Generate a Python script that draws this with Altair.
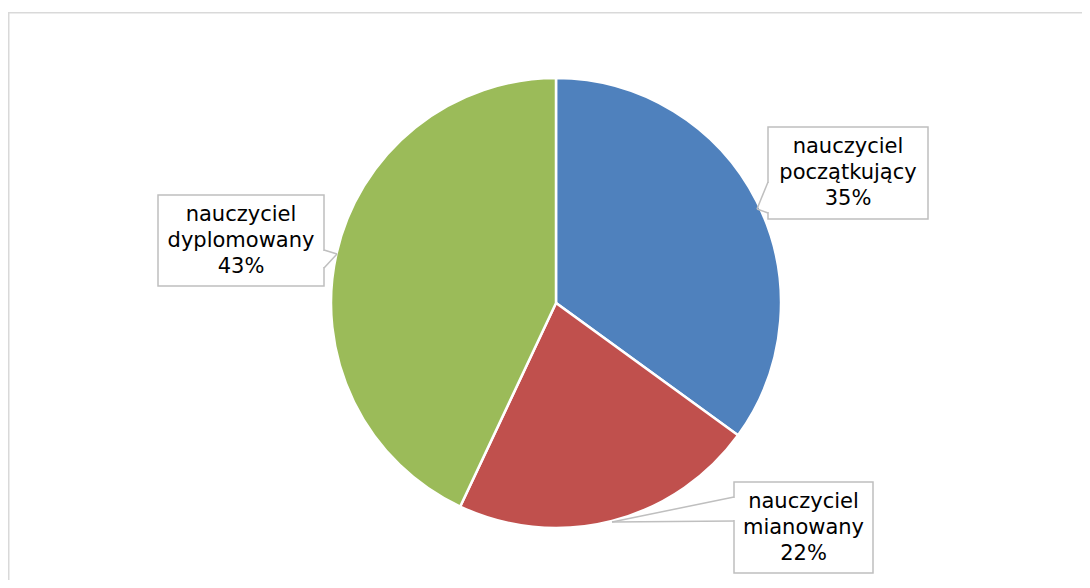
import altair as alt
import pandas as pd

# ---- data ----
categories = ["nauczyciel początkujący", "nauczyciel mianowany", "nauczyciel dyplomowany"]
label_lines = [["nauczyciel", "początkujący"], ["nauczyciel", "mianowany"], ["nauczyciel", "dyplomowany"]]
values = [35, 22, 43]
colors = ["#4F81BD", "#C0504D", "#9BBB59"]

# ---- layout (view pixels) ----
W, H = 1074, 568
LH = 26
CX, CY, R = 548, 291, 225
box_x0 = [760, 726, 150]
box_x1 = [920, 865, 316]
box_y0 = [115, 470, 183]
box_y1 = [207, 561, 274]
ptr_edge = [760, 726, 316]
ptr_ya = [170, 485, 238]
ptr_yb = [201, 509, 256]
ptr_tx = [749, 604, 329]
ptr_ty = [197, 510, 242]

pie_df = pd.DataFrame({"category": categories, "value": values, "idx": list(range(len(values)))})

label_df = pd.DataFrame({
    "x0": box_x0, "x1": box_x1, "y0": box_y0, "y1": box_y1,
    "cx": [(a + b) / 2 for a, b in zip(box_x0, box_x1)],
    "cy": [(a + b) / 2 - LH for a, b in zip(box_y0, box_y1)],
    "text": [f"{l[0]}\n{l[1]}\n{v}%" for l, v in zip(label_lines, values)],
})

seg_rows, cover_rows = [], []
for e, ya, yb, tx, ty in zip(ptr_edge, ptr_ya, ptr_yb, ptr_tx, ptr_ty):
    seg_rows.append({"x": e, "y": ya, "x2": tx, "y2": ty})
    seg_rows.append({"x": e, "y": yb, "x2": tx, "y2": ty})
    cover_rows.append({"x": e, "y": ya + 1, "x2": e, "y2": yb - 1})
seg_df = pd.DataFrame(seg_rows)
cover_df = pd.DataFrame(cover_rows)

border_df = pd.DataFrame({"x": [0.75, 0], "y": [0, 0.75], "x2": [0.75, W], "y2": [H, 0.75]})

xs = alt.Scale(domain=[0, W], range=[0, W], nice=False, zero=False)
ys = alt.Scale(domain=[0, H], range=[0, H], nice=False, zero=False)

def X(f):
    return alt.X(f, type="quantitative", scale=xs, axis=None)

def Y(f):
    return alt.Y(f, type="quantitative", scale=ys, axis=None)

border = alt.Chart(border_df).mark_rule(color="#d9d9d9", strokeWidth=1.5).encode(
    x=X("x"), y=Y("y"), x2="x2", y2="y2")

pie = alt.Chart(pie_df).mark_arc(outerRadius=R, stroke="white", strokeWidth=2.5).encode(
    theta=alt.Theta("value:Q", stack=True),
    color=alt.Color("category:N", scale=alt.Scale(domain=categories, range=colors), legend=None),
    order=alt.Order("idx:Q"),
    x=alt.value(CX), y=alt.value(CY),
)

boxes = alt.Chart(label_df).mark_rect(fill="white", stroke="#bfbfbf", strokeWidth=1.5).encode(
    x=X("x0"), x2="x1", y=Y("y0"), y2="y1")

cover = alt.Chart(cover_df).mark_rule(color="white", strokeWidth=3).encode(
    x=X("x"), y=Y("y"), x2="x2", y2="y2")

ptr = alt.Chart(seg_df).mark_rule(color="#bfbfbf", strokeWidth=1.5).encode(
    x=X("x"), y=Y("y"), x2="x2", y2="y2")

texts = alt.Chart(label_df).mark_text(
    font="DejaVu Sans", fontSize=21, lineHeight=LH, lineBreak="\n",
    align="center", baseline="middle", color="#000000"
).encode(x=X("cx"), y=Y("cy"), text="text:N")

chart = alt.layer(border, pie, boxes, cover, ptr, texts).properties(
    width=W, height=H,
    autosize=alt.AutoSizeParams(type="none"),
    padding={"left": 0, "top": 4, "right": 0, "bottom": 0},
    background="white",
).configure_view(stroke=None)

chart.save("out.html", embed_options={"renderer": "svg", "actions": False})
